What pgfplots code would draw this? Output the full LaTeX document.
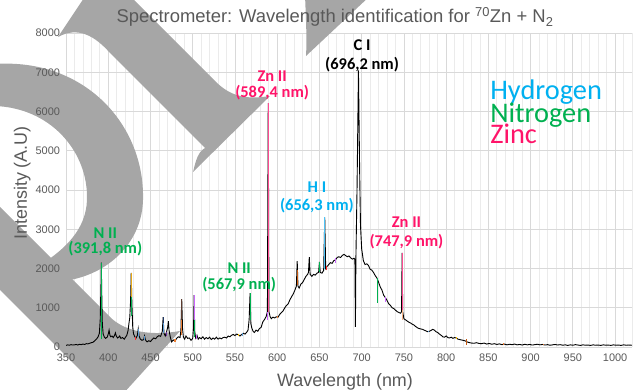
\documentclass[border=0pt]{standalone}
\usepackage{pgfplots}
\pgfplotsset{compat=1.18}
\usepackage{fontspec}
\setmainfont{Liberation Sans}
\newfontfamily\calibri{Carlito}
\definecolor{txtgray}{HTML}{595959}
\definecolor{gridmaj}{HTML}{D9D9D9}
\definecolor{gridmin}{HTML}{EBEBEB}
\definecolor{wm}{HTML}{A6A6A6}
\definecolor{zn}{HTML}{FF1469}
\definecolor{znline}{HTML}{FF4A92}
\definecolor{nitro}{HTML}{00B050}
\definecolor{hydro}{HTML}{00B0F0}
\definecolor{hline}{HTML}{4FC3F7}
\definecolor{gold}{HTML}{E6A817}
\definecolor{lblue}{HTML}{5B9BD5}
\definecolor{navy}{HTML}{203864}
\definecolor{dpurple}{HTML}{7030A0}
\definecolor{violet}{HTML}{CC66FF}
\definecolor{orng}{HTML}{ED7D31}
\definecolor{lorng}{HTML}{F4B183}
\definecolor{brwn}{HTML}{C55A11}
\definecolor{dbrown}{HTML}{5C3B2E}
\definecolor{yell}{HTML}{FFC000}
\definecolor{lred}{HTML}{FF3030}
\begin{document}
\begin{tikzpicture}
% grid layer
\begin{axis}[scale only axis, width=566bp, height=314bp,
  xmin=350, xmax=1020, ymin=0, ymax=8000,
  xtick={350,400,...,1000}, minor xtick={350,360,...,1020},
  ytick={0,1000,...,8000},
  xmajorgrids, xminorgrids, ymajorgrids,
  major grid style={gridmaj, line width=0.75bp},
  minor grid style={gridmin, line width=0.75bp},
  axis line style={draw=none}, tick style={draw=none},
  xticklabels={}, yticklabels={}]
\end{axis}
% watermark
\begin{scope}[x=1bp,y=-1bp,shift={(-66bp,347bp)}]
\fill[wm] (58,37) -- (86,-5) -- (129,-5) -- (215,81) .. controls (230,96) and (245,100) .. (270,96) -- (193,172) .. controls (196,160) and (198,152) .. (205,148) -- (110,53) .. controls (95,36) and (78,26) .. cycle;
\fill[wm] (306,56) .. controls (307,40) and (306,20) .. (305,-5) -- (371,-5) -- cycle;
\fill[wm] (-5,64) .. controls (85,58) and (145,125) .. (143,200) .. controls (142,240) and (112,272) .. (70,280) -- (45,262) .. controls (70,245) and (88,225) .. (87,195) .. controls (86,150) and (50,108) .. (-5,106) -- cycle;
\fill[wm] (-5,202) -- (110,317) .. controls (122,329) and (145,337) .. (180,331) -- (122,395) -- (105,395) -- (-5,285) -- cycle;
\end{scope}
% data layer
\begin{axis}[scale only axis, width=566bp, height=314bp,
  xmin=350, xmax=1020, ymin=0, ymax=8000,
  xtick={350,400,...,1000}, ytick={0,1000,...,8000},
  axis line style={draw=none}, tick style={draw=none}, major tick length=0pt,
  ticklabel style={font=\fontsize{11}{13}\selectfont, text=txtgray},
  xticklabel style={yshift=-3.5bp},
  yticklabel style={xshift=-2.5bp},
  /pgf/number format/assume math mode=true,
  /pgf/number format/1000 sep={}]
\addplot[black, line width=0.9bp] coordinates {
(350,40)(352,55)(354,45)(356,60)(358,50)(360,55)(362,65)(364,50)(366,70)(368,60)(370,75)(372,65)(374,85)(376,80)(378,95)(380,110)(382,120)(384,160)(386,200)(388,260)(389.5,350)(390.5,700)(391.3,1500)(391.8,2150)(392.3,1400)(393,600)(394,330)(395.5,250)(397,220)(399,260)(400,330)(401,430)(402,300)(403,260)(404.5,280)(406,240)(407.5,300)(408.5,360)(409.5,280)(411,230)(412.5,250)(413.5,280)(415,220)(417,240)(419,200)(420.5,250)(422,300)(423.5,420)(424.5,600)(425.5,750)(426.5,1200)(427.2,1890)(428,1100)(429,500)(430,330)(431.5,260)(433,230)(434.5,300)(435.5,460)(436.5,280)(438,200)(440,170)(442,190)(443,280)(444,180)(446,130)(448,160)(450,140)(452,190)(454,230)(456,210)(458,260)(460,290)(462,270)(464,400)(465,760)(466,350)(467.5,280)(469,380)(470.5,520)(471.2,660)(472,420)(473.5,250)(475,130)(477,180)(479,150)(481,220)(483,260)(485,240)(486,420)(487,1220)(488,450)(489,250)(490.5,200)(492,280)(494,220)(496,230)(498,170)(500,220)(501,500)(501.7,1320)(502.4,400)(503.5,230)(505,300)(506.5,200)(508,240)(510,210)(512,260)(514,200)(516,240)(518,210)(520,250)(522,190)(524,230)(526,200)(528,250)(530,200)(532,230)(534,210)(536,240)(538,250)(540,230)(542,280)(544,260)(546,300)(548,320)(550,290)(552,330)(554,310)(556,280)(558,320)(560,350)(562,330)(564,380)(565.5,430)(566.8,700)(567.9,1375)(568.8,600)(570,480)(571.5,400)(573,370)(575,430)(577,400)(579,470)(581,500)(583,640)(585,700)(587,780)(588.4,900)(589.4,6215)(590.3,900)(591.5,780)(593,720)(595,760)(597,740)(599,770)(601,760)(603,830)(605,880)(607,920)(609,1000)(611,1060)(613,1100)(615,1200)(617,1280)(619,1350)(621,1450)(622.7,1550)(623.7,2190)(624.6,1550)(626,1500)(628,1600)(630,1640)(632,1720)(634,1800)(636,1850)(637,1900)(638,2290)(639,1850)(641,1800)(643,1850)(645,1830)(647,1880)(649,1900)(650,2165)(651,1900)(653,1880)(655,1950)(656.3,3300)(657.4,2000)(659,2050)(661,2100)(663,2150)(665,2130)(667,2200)(669,2220)(671,2280)(673,2300)(675,2280)(677,2330)(679,2360)(681,2330)(683,2300)(685,2320)(687,2270)(689,2240)(691,2260)(692,2230)(692.6,510)(693.2,2300)(694.5,4000)(696.2,7050)(697.6,4500)(698.6,3100)(700,2500)(702,2200)(704,2100)(706,2120)(708,2080)(710,1980)(712,1960)(714,1900)(716,1820)(718,1760)(720,1650)(722,1530)(724,1450)(726,1320)(728,1260)(730,1190)(732,1100)(734,1060)(736,1000)(738,980)(740,940)(742,900)(744,880)(746,860)(747.2,900)(747.9,2400)(748.6,900)(750,720)(752,690)(754,660)(756,630)(758,610)(760,580)(762,560)(764,520)(766,490)(768,470)(770,460)(772,450)(774,430)(776,410)(778,390)(780,400)(782,420)(784,450)(786,430)(788,390)(790,370)(792,330)(794,300)(796,260)(798,250)(800,280)(802,240)(804,230)(806,250)(808,220)(810,240)(812,230)(814,200)(816,190)(818,180)(820,170)(822,160)(824,140)(826,120)(828,110)(830,100)(833,95)(836,110)(839,90)(842,85)(845,100)(848,75)(851,90)(854,70)(857,85)(860,65)(863,80)(866,60)(869,75)(872,55)(875,70)(878,60)(881,75)(884,55)(887,65)(890,50)(893,70)(896,55)(899,65)(902,50)(905,60)(908,70)(911,55)(914,65)(917,50)(920,60)(923,45)(926,55)(929,65)(932,50)(935,60)(938,45)(941,55)(944,40)(947,55)(950,45)(953,60)(956,50)(959,40)(962,55)(965,45)(968,50)(971,40)(974,55)(977,45)(980,50)(983,40)(986,55)(989,45)(992,50)(995,40)(998,55)(1001,45)(1004,50)(1007,40)(1010,55)(1013,45)(1016,50)(1020,45)};
% coloured line identifications
\addplot[nitro, line width=1.1bp] coordinates {(391.8,200)(391.8,2150)};
\addplot[nitro, line width=1.1bp] coordinates {(427.2,800)(427.2,1270)};
\addplot[gold, line width=1.1bp] coordinates {(427.2,1270)(427.2,1890)};
\addplot[lred, line width=1.1bp] coordinates {(432,190)(432,260)};
\addplot[lblue, line width=1.1bp] coordinates {(435.5,260)(435.5,460)};
\addplot[lblue, line width=1.1bp] coordinates {(443,180)(443,280)};
\addplot[lblue, line width=1.1bp] coordinates {(465,350)(465,600)};
\addplot[navy, line width=1.1bp] coordinates {(465,600)(465,760)};
\addplot[dpurple, line width=1.1bp] coordinates {(468.5,270)(468.5,380)};
\addplot[orng, line width=1.1bp] coordinates {(479,130)(479,200)};
\addplot[orng, line width=1.1bp] coordinates {(487,300)(487,700)};
\addplot[dbrown, line width=1.1bp] coordinates {(487,700)(487,1220)};
\addplot[nitro, line width=1.1bp] coordinates {(501.7,250)(501.7,700)};
\addplot[violet, line width=1.1bp] coordinates {(501.7,700)(501.7,1320)};
\addplot[violet, line width=1.1bp] coordinates {(505,200)(505,300)};
\addplot[yell, line width=1.1bp] coordinates {(554,270)(554,330)};
\addplot[lblue, line width=1.1bp] coordinates {(559,290)(559,360)};
\addplot[nitro, line width=1.1bp] coordinates {(567.9,690)(567.9,1375)};
\addplot[violet, line width=1.1bp] coordinates {(588,690)(588,880)};
\addplot[znline, line width=1.1bp] coordinates {(589.4,900)(589.4,6215)};
\addplot[orng, line width=1.1bp] coordinates {(600,740)(600,800)};
\addplot[brwn, line width=1.1bp] coordinates {(623.7,1580)(623.7,1960)};
\addplot[nitro, line width=1.1bp] coordinates {(650,1900)(650,2165)};
\addplot[hline, line width=1.1bp] coordinates {(656.3,2000)(656.3,3300)};
\addplot[lred, line width=1.1bp] coordinates {(658,1950)(658,2060)};
\addplot[violet, line width=1.1bp] coordinates {(668.7,2150)(668.7,2260)};
\addplot[nitro, line width=1.1bp] coordinates {(718.5,1130)(718.5,1760)};
\addplot[violet, line width=1.1bp] coordinates {(728,1150)(728,1270)};
\addplot[lorng, line width=1.1bp] coordinates {(747.9,690)(747.9,940)};
\addplot[znline, line width=1.1bp] coordinates {(747.9,940)(747.9,2400)};
\addplot[lblue, line width=1.1bp] coordinates {(779,370)(779,420)};
\addplot[yell, line width=1.1bp] coordinates {(812,210)(812,260)};
\addplot[brwn, line width=1.1bp] coordinates {(824,60)(824,200)};
\addplot[orng, line width=1.1bp] coordinates {(868,50)(868,90)};
\addplot[orng, line width=1.1bp] coordinates {(915,45)(915,85)};
% annotations
\begin{scope}[every node/.style={font=\calibri\bfseries\fontsize{16.5}{18}\selectfont, anchor=base, inner sep=0pt}]
\node[text=zn] at (axis cs:594,6777) {Zn II};
\node[text=zn] at (axis cs:594,6344) {(589,4 nm)};
\node[text=black] at (axis cs:700.5,7542) {C I};
\node[text=black] at (axis cs:700.5,7059) {(696,2 nm)};
\node[text=hydro] at (axis cs:647,3949) {H I};
\node[text=hydro] at (axis cs:647,3490) {(656,3 nm)};
\node[text=nitro] at (axis cs:396.5,2752) {N II};
\node[text=nitro] at (axis cs:396.5,2370) {(391,8 nm)};
\node[text=nitro] at (axis cs:555,1885) {N II};
\node[text=nitro] at (axis cs:555,1477) {(567,9 nm)};
\node[text=zn] at (axis cs:753,3032) {Zn II};
\node[text=zn] at (axis cs:753,2573) {(747,9 nm)};
\end{scope}
\begin{scope}[every node/.style={font=\calibri\fontsize{28.5}{30}\selectfont, anchor=base west, inner sep=0pt}]
\node[text=hydro] at (axis cs:852,6293) {Hydrogen};
\node[text=nitro] at (axis cs:852,5707) {Nitrogen};
\node[text=zn] at (axis cs:852,5197) {Zinc};
\end{scope}
\end{axis}
% titles
\begin{scope}[x=1bp,y=-1bp,shift={(-66bp,347bp)}]
\node[anchor=base, inner sep=0pt, font=\fontsize{18.5}{22}\selectfont, text=txtgray] at (335,23) {Spectrometer: Wavelength identification for \textsuperscript{70}Zn + N\textsubscript{2}};
\node[anchor=base, inner sep=0pt, font=\fontsize{18}{22}\selectfont, text=txtgray] at (345,387) {Wavelength (nm)};
\node[anchor=base, inner sep=0pt, rotate=90, font=\fontsize{18}{22}\selectfont, text=txtgray] at (27,183) {Intensity (A.U)};
\end{scope}
\pgfresetboundingbox
\path[use as bounding box] (-66bp,-43bp) rectangle (569bp,347bp);
\end{tikzpicture}
\end{document}
